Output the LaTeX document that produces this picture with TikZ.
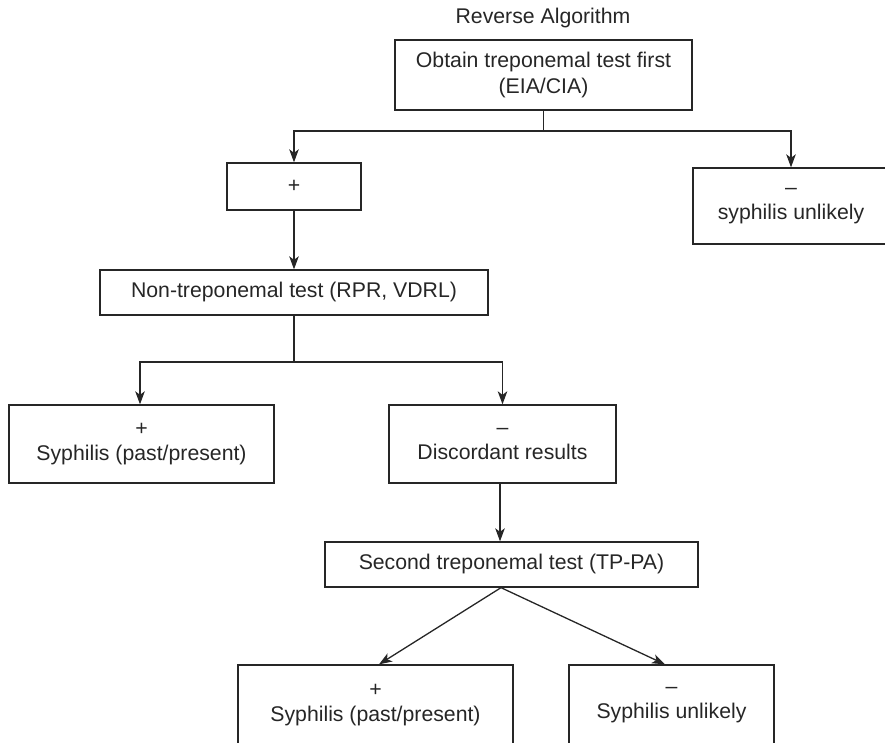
\documentclass[tikz,border=0pt]{standalone}
\usepackage{fontspec}
\setmainfont{Liberation Sans}
\usetikzlibrary{arrows.meta}
\definecolor{ink}{HTML}{262626}
\begin{document}
\begin{tikzpicture}[x=1pt,y=-1pt,
  lbl/.style={font=\fontsize{21.25}{25.5}\selectfont, text=ink, align=center, inner sep=0pt},
  box/.style={lbl, draw=ink, line width=1.3pt, rectangle},
  ln/.style={draw=ink, line width=1.3pt},
  arr/.style={ln, -{Stealth[length=13pt,width=9.5pt,inset=3.5pt]}}]
\clip (0,0) rectangle (885,743);
\node[lbl] (title) at (543,18) {Reverse Algorithm};
\node[box, minimum width=297pt, minimum height=70pt] (b1) at (543.5,75) {Obtain treponemal test first\\(EIA/CIA)};
\node[box, minimum width=134pt, minimum height=47pt] (plus) at (294,186.5) {+};
\node[box, minimum width=196pt, minimum height=76pt] (neg1) at (791,206) {–\\syphilis unlikely};
\node[box, minimum width=388pt, minimum height=45pt] (nontrep) at (294,292.5) {Non-treponemal test (RPR, VDRL)};
\node[box, minimum width=265pt, minimum height=78pt] (pos2) at (141.5,444) {+\\Syphilis (past/present)};
\node[box, minimum width=227pt, minimum height=78pt] (disc) at (502.5,444) {–\\Discordant results};
\node[box, minimum width=373pt, minimum height=45pt] (second) at (511.5,564.5) {Second treponemal test (TP-PA)};
\node[box, minimum width=275pt, minimum height=80pt] (pos3) at (375.5,705) {+\\Syphilis (past/present)};
\node[box, minimum width=205pt, minimum height=80pt] (neg3) at (671.5,705) {–\\Syphilis unlikely};
\coordinate (j1) at (543.5,131);
\coordinate (j2) at (294,362);
\draw[ln] (b1.south) -- (j1);
\draw[arr] (j1) -| (plus.north);
\draw[arr] (j1) -| (neg1.north);
\draw[arr] (plus.south) -- (nontrep.north);
\draw[ln] (nontrep.south) -- (j2);
\draw[arr] (j2) -| ([xshift=-1.5pt]pos2.north);
\draw[arr] (j2) -| (disc.north);
\draw[arr] ([xshift=-2.5pt]disc.south) -- ([xshift=-2.5pt]disc.south |- second.north);
\draw[arr] ([xshift=-10.5pt]second.south) -- ([xshift=3.5pt]pos3.north);
\draw[arr] ([xshift=-10.5pt]second.south) -- ([xshift=-6.5pt]neg3.north);
\end{tikzpicture}
\end{document}
